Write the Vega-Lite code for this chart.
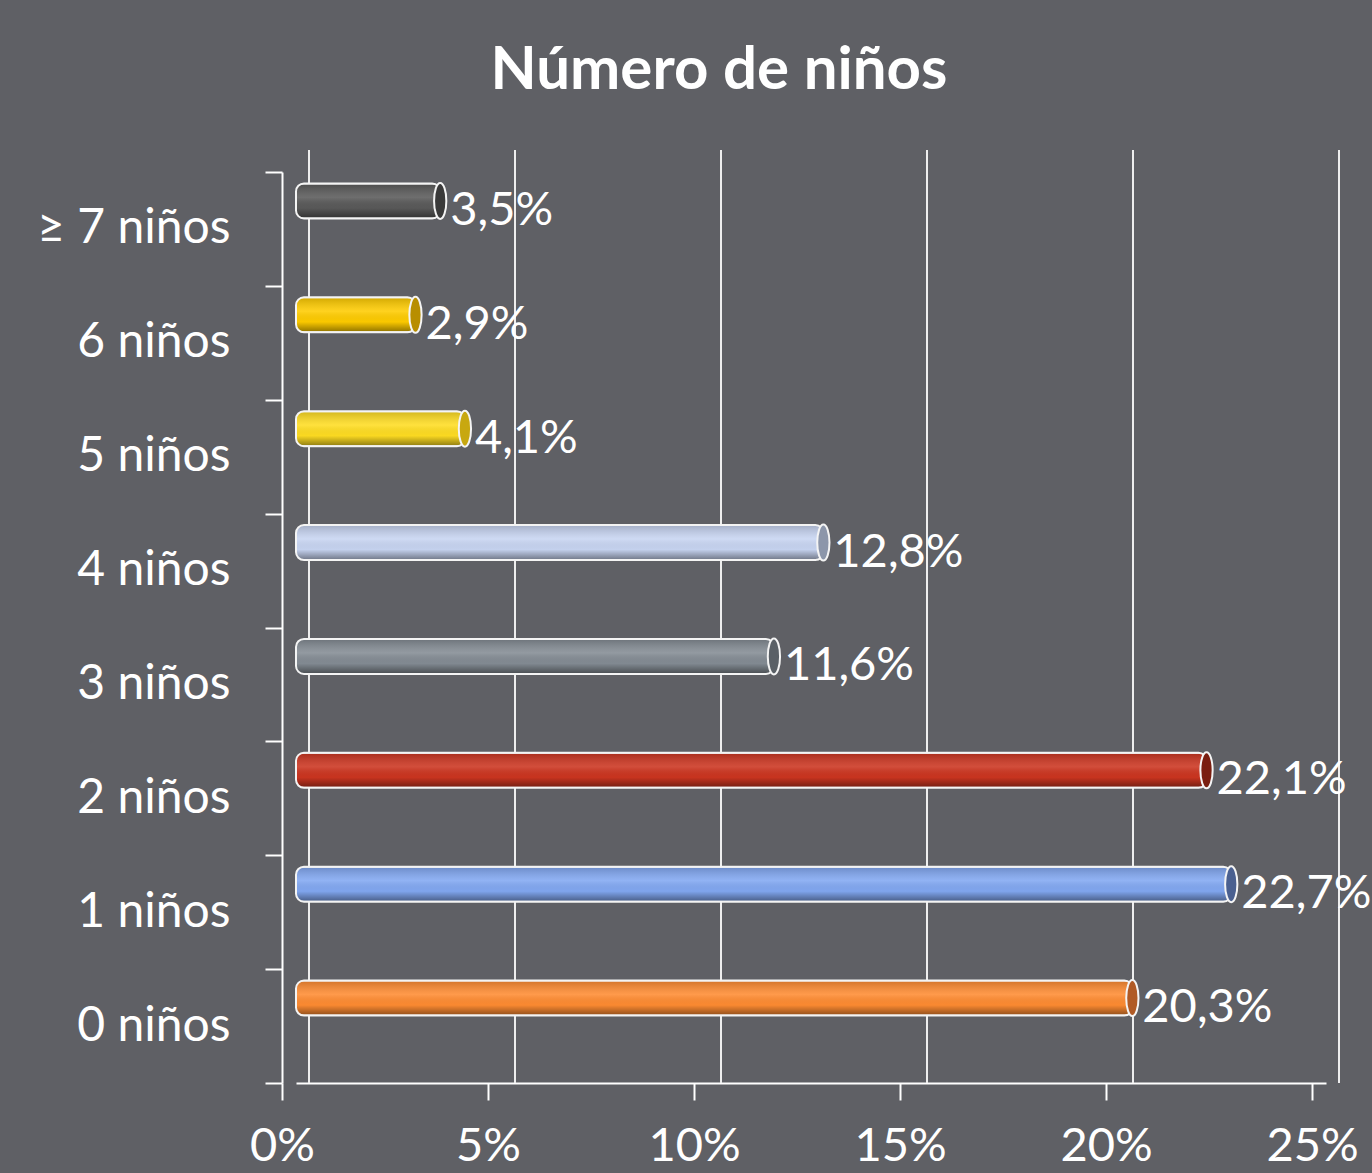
{
  "$schema": "https://vega.github.io/schema/vega-lite/v6.json",
  "autosize": "none",
  "width": 1030,
  "height": 911,
  "padding": {"left": 296, "top": 172, "right": 46, "bottom": 90},
  "background": "#5f6065",
  "config": {
    "view": {"stroke": null},
    "font": "Lato",
    "locale": {"number": {"decimal": ",", "thousands": ".", "grouping": [3], "currency": ["", " €"]}}
  },
  "title": {
    "text": "Número de niños",
    "fontSize": 60,
    "fontWeight": "bold",
    "font": "Lato",
    "color": "white",
    "anchor": "middle",
    "dx": -92,
    "offset": 46
  },
  "datasets": {
    "bars": [
      {"cat": "≥ 7 niños", "pct": 0.035},
      {"cat": "6 niños", "pct": 0.029},
      {"cat": "5 niños", "pct": 0.041},
      {"cat": "4 niños", "pct": 0.128},
      {"cat": "3 niños", "pct": 0.116},
      {"cat": "2 niños", "pct": 0.221},
      {"cat": "1 niños", "pct": 0.227},
      {"cat": "0 niños", "pct": 0.203}
    ],
    "grid": [{"g": 0}, {"g": 0.05}, {"g": 0.1}, {"g": 0.15}, {"g": 0.2}, {"g": 0.25}]
  },
  "layer": [
    {
      "data": {"name": "grid"},
      "mark": {"type": "rule", "color": "#eeeeee", "strokeWidth": 2, "xOffset": 13, "yOffset": -22},
      "encoding": {
        "x": {
          "field": "g", "type": "quantitative", "title": null,
          "scale": {"domain": [0, 0.25], "nice": false},
          "axis": {
            "values": [0, 0.05, 0.1, 0.15, 0.2, 0.25], "format": ".0%", "grid": false,
            "domainColor": "white", "domainWidth": 2, "tickColor": "white", "tickWidth": 2, "tickSize": 17,
            "tickOffset": -14, "labelFlush": false, "labelOverlap": false,
            "labelColor": "white", "labelFontSize": 47, "labelFont": "Lato", "labelPadding": 23
          }
        }
      }
    },
    {
      "data": {"name": "bars"},
      "mark": {"type": "bar", "height": 35, "cornerRadius": 8, "yOffset": -28},
      "encoding": {
        "y": {
          "field": "cat", "type": "nominal", "sort": null, "title": null,
          "scale": {"paddingInner": 0, "paddingOuter": 0},
          "axis": {
            "offset": 14,
            "domainColor": "white", "domainWidth": 2, "tickColor": "white", "tickWidth": 2, "tickSize": 17,
            "tickBand": "extent", "labelColor": "white", "labelFontSize": 48, "labelFont": "Lato",
            "labelPadding": 35, "labelLimit": 0
          }
        },
        "x": {"field": "pct", "type": "quantitative"},
        "color": {
          "field": "cat", "type": "nominal", "legend": null,
          "scale": {
            "domain": ["≥ 7 niños", "6 niños", "5 niños", "4 niños", "3 niños", "2 niños", "1 niños", "0 niños"],
            "range": ["#5a5a5a", "#ffcc00", "#ffdd22", "#c8d5f2", "#848c94", "#cc3520", "#82a8f2", "#ff8c32"]
          }
        }
      }
    },
    {
      "data": {"name": "bars"},
      "mark": {
        "type": "bar", "height": 35, "cornerRadius": 8, "yOffset": -28,
        "stroke": "#f4f4f4", "strokeWidth": 2,
        "fill": {
          "gradient": "linear", "x1": 0, "y1": 0, "x2": 0, "y2": 1,
          "stops": [
            {"offset": 0, "color": "rgba(0,0,0,0.18)"},
            {"offset": 0.4, "color": "rgba(255,255,255,0.12)"},
            {"offset": 0.7, "color": "rgba(0,0,0,0.02)"},
            {"offset": 1, "color": "rgba(0,0,0,0.45)"}
          ]
        }
      },
      "encoding": {
        "y": {"field": "cat", "type": "nominal", "sort": null},
        "x": {"field": "pct", "type": "quantitative"}
      }
    },
    {
      "data": {"name": "bars"},
      "mark": {
        "type": "point", "filled": true, "size": 1300, "yOffset": -28,
        "shape": "M0,-1 A0.34,1 0 1,1 0,1 A0.34,1 0 1,1 0,-1 Z",
        "stroke": "#f4f4f4", "strokeWidth": 2, "opacity": 1
      },
      "encoding": {
        "y": {"field": "cat", "type": "nominal", "sort": null},
        "x": {"field": "pct", "type": "quantitative"},
        "fill": {
          "field": "cat", "type": "nominal", "legend": null,
          "scale": {
            "domain": ["≥ 7 niños", "6 niños", "5 niños", "4 niños", "3 niños", "2 niños", "1 niños", "0 niños"],
            "range": ["#3a3a3a", "#b88e00", "#c8a810", "#8c96aa", "#5a6066", "#7a1e10", "#4a6090", "#b05a25"]
          }
        }
      }
    },
    {
      "data": {"name": "bars"},
      "mark": {"type": "text", "align": "left", "baseline": "middle", "fontSize": 47, "font": "Lato", "color": "white", "yOffset": -18, "dx": 10},
      "encoding": {
        "y": {"field": "cat", "type": "nominal", "sort": null},
        "x": {"field": "pct", "type": "quantitative"},
        "text": {"field": "pct", "type": "quantitative", "format": ".1%"}
      }
    }
  ]
}
